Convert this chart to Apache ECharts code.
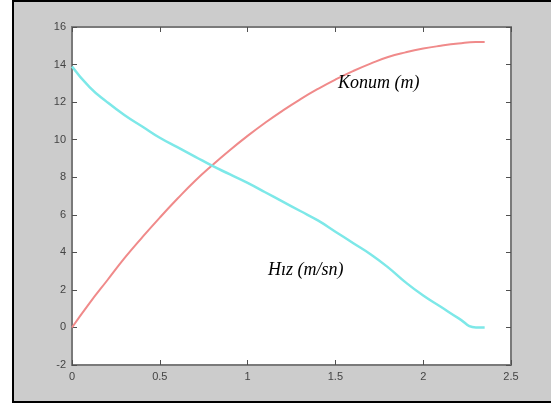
<!DOCTYPE html>
<html>
<head>
<meta charset="utf-8">
<script src="https://cdn.jsdelivr.net/npm/echarts@6/dist/echarts.min.js"></script>
<style>
  html, body { margin: 0; padding: 0; background: #fff; }
  #frame {
    position: absolute; left: 12px; top: 0; width: 539px; height: 403px;
    background: #cccccc; border-left: 2px solid #000; border-top: 2px solid #000;
    border-bottom: 2px solid #000; box-sizing: border-box;
  }
  #chart { position: absolute; left: 0; top: 0; width: 551px; height: 405px; }
</style>
</head>
<body>
<div id="frame"></div>
<div id="chart"></div>
<script>
// time (s)
const time = [0, 0.1, 0.2, 0.3, 0.4, 0.5, 0.6, 0.7, 0.8, 0.9, 1.0, 1.1, 1.2,
  1.3, 1.4, 1.5, 1.6, 1.7, 1.8, 1.9, 2.0, 2.1, 2.2, 2.3, 2.35];

// Konum (m) - red
const konum = [0, 1.3, 2.5, 3.7, 4.8, 5.85, 6.85, 7.8, 8.65, 9.45, 10.2, 10.9, 11.55,
  12.15, 12.7, 13.2, 13.65, 14.05, 14.4, 14.65, 14.85, 15.0, 15.12, 15.2, 15.2];

// Hız (m/sn) - cyan
const hiz = [13.9, 12.8, 12.0, 11.3, 10.7, 10.1, 9.6, 9.1, 8.6, 8.15, 7.7, 7.2, 6.7,
  6.2, 5.7, 5.1, 4.5, 3.9, 3.2, 2.4, 1.7, 1.1, 0.5, 0.0, 0.0];

const labelKonum = { text: 'Konum (m)', at: [1.515, 13.0] };
const labelHiz = { text: 'Hız (m/sn)', at: [1.116, 3.06] };

const chart = echarts.init(document.getElementById('chart'));

const pairs = (ys) => time.map((t, i) => [t, ys[i]]);

const tickStyle = { inside: true, length: 5, lineStyle: { color: '#505050', width: 1 } };
const axisLbl = { color: '#444', fontFamily: 'Liberation Sans', fontSize: 11 };
const noLine = { show: false, onZero: false };

const textMark = (lbl) => ({
  symbol: 'circle',
  symbolSize: 0,
  silent: true,
  label: {
    show: true,
    position: 'right',
    distance: 0,
    formatter: lbl.text,
    color: '#000',
    fontFamily: 'Liberation Serif',
    fontStyle: 'italic',
    fontSize: 18
  },
  data: [{ coord: lbl.at }]
});

const option = {
  backgroundColor: 'transparent',
  animation: false,
  grid: {
    left: 72, right: 40, top: 27, bottom: 40,
    show: true,
    backgroundColor: '#fff',
    borderColor: '#7a7a7a',
    borderWidth: 2
  },
  xAxis: [
    {
      type: 'value', min: 0, max: 2.5, interval: 0.5,
      axisLine: noLine,
      axisTick: tickStyle,
      axisLabel: Object.assign({ margin: 6 }, axisLbl),
      splitLine: { show: false }
    },
    {
      type: 'value', position: 'top', min: 0, max: 2.5, interval: 0.5,
      axisLine: noLine,
      axisTick: tickStyle,
      axisLabel: { show: false },
      splitLine: { show: false }
    }
  ],
  yAxis: [
    {
      type: 'value', min: -2, max: 16, interval: 2,
      axisLine: noLine,
      axisTick: tickStyle,
      axisLabel: Object.assign({ margin: 6 }, axisLbl),
      splitLine: { show: false }
    },
    {
      type: 'value', position: 'right', min: -2, max: 16, interval: 2,
      axisLine: noLine,
      axisTick: tickStyle,
      axisLabel: { show: false },
      splitLine: { show: false }
    }
  ],
  series: [
    {
      name: 'Konum (m)',
      type: 'line',
      smooth: true,
      showSymbol: false,
      lineStyle: { color: '#f08a8a', width: 2 },
      data: pairs(konum),
      markPoint: textMark(labelKonum)
    },
    {
      name: 'Hız (m/sn)',
      type: 'line',
      smooth: true,
      showSymbol: false,
      lineStyle: { color: '#7de8e8', width: 2.5 },
      data: pairs(hiz),
      markPoint: textMark(labelHiz)
    }
  ]
};

chart.setOption(option);
</script>
</body>
</html>
